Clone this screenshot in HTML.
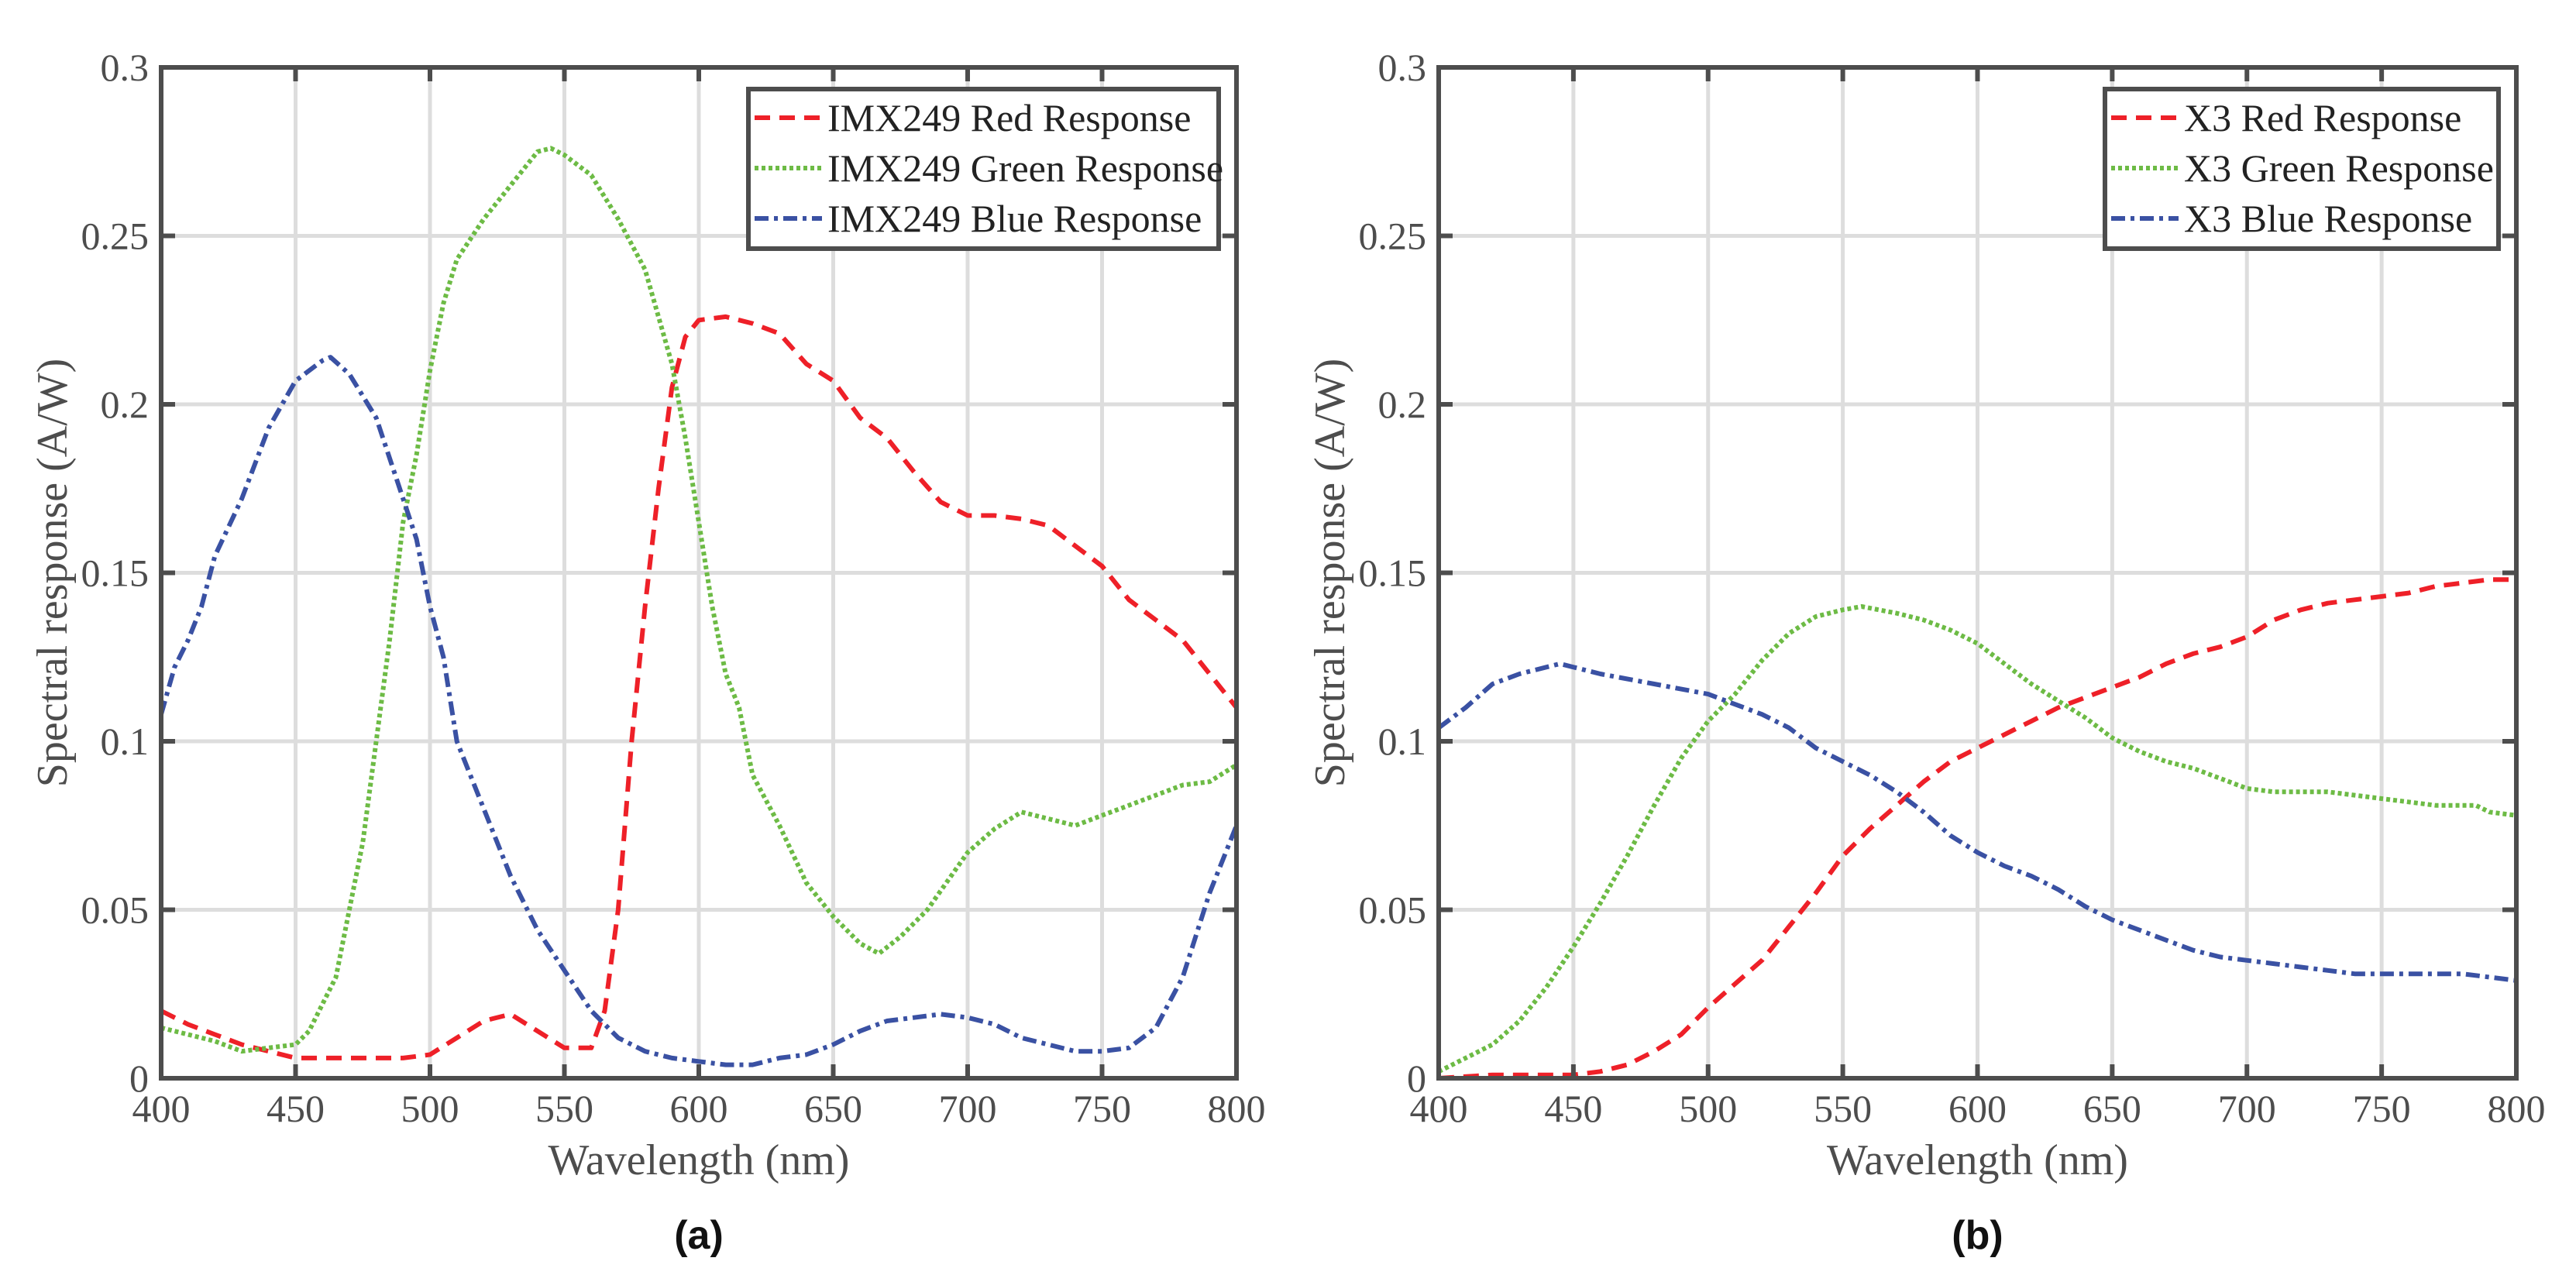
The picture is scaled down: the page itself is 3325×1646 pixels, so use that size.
<!DOCTYPE html>
<html><head><meta charset="utf-8"><style>
html,body{margin:0;padding:0;background:#fff;}
svg{display:block;}
text{font-family:"Liberation Serif",serif;}
</style></head><body>
<svg id="fig" width="3325" height="1646" viewBox="0 0 3325 1646" xmlns="http://www.w3.org/2000/svg"></svg>
<script>
const xTicks=[400,450,500,550,600,650,700,750,800];
const yTicks=[0,0.05,0.1,0.15,0.2,0.25,0.3];
const yTickLabels=["0","0.05","0.1","0.15","0.2","0.25","0.3"];
const aRedX=[400,410,420,430,440,450,460,470,480,490,500,510,520,530,540,550,560,565,570,575,580,585,590,595,600,610,620,630,640,650,660,670,680,690,700,710,720,730,740,750,760,770,780,790,800];
const aRedY=[0.020,0.016,0.013,0.010,0.008,0.006,0.006,0.006,0.006,0.006,0.007,0.012,0.017,0.019,0.014,0.009,0.009,0.02,0.05,0.10,0.14,0.175,0.205,0.22,0.225,0.226,0.224,0.221,0.212,0.207,0.196,0.190,0.180,0.171,0.167,0.167,0.166,0.164,0.158,0.152,0.142,0.136,0.130,0.120,0.110];
const aGreenX=[400,410,420,430,440,450,455,460,465,470,475,480,485,490,495,500,505,510,520,530,540,545,550,560,570,580,590,595,600,605,610,615,620,630,640,650,660,667,675,685,700,710,720,730,740,750,760,770,780,790,800];
const aGreenY=[0.015,0.013,0.011,0.008,0.009,0.010,0.014,0.022,0.030,0.050,0.070,0.100,0.130,0.165,0.185,0.210,0.230,0.243,0.255,0.265,0.275,0.276,0.274,0.268,0.255,0.240,0.212,0.190,0.165,0.140,0.120,0.110,0.090,0.075,0.058,0.048,0.040,0.037,0.042,0.050,0.067,0.074,0.079,0.077,0.075,0.078,0.081,0.084,0.087,0.088,0.093];
const aBlueX=[400,405,410,415,420,430,440,450,460,463,470,480,490,495,500,505,510,515,520,530,540,550,560,570,580,590,600,610,620,630,640,650,660,670,680,690,700,710,720,730,740,750,760,770,780,790,800];
const aBlueY=[0.108,0.122,0.130,0.140,0.155,0.172,0.193,0.207,0.213,0.214,0.209,0.196,0.172,0.160,0.140,0.125,0.100,0.090,0.080,0.060,0.044,0.032,0.020,0.012,0.008,0.006,0.005,0.004,0.004,0.006,0.007,0.010,0.014,0.017,0.018,0.019,0.018,0.016,0.012,0.010,0.008,0.008,0.009,0.015,0.030,0.055,0.075];
const bRedX=[400,420,440,450,460,470,480,490,500,510,520,530,540,550,560,570,580,590,600,610,620,630,640,650,660,670,680,690,700,710,720,730,740,750,760,770,780,790,800];
const bRedY=[0.000,0.001,0.001,0.001,0.002,0.004,0.008,0.013,0.021,0.028,0.035,0.045,0.055,0.066,0.074,0.081,0.088,0.094,0.098,0.102,0.106,0.110,0.113,0.116,0.119,0.123,0.126,0.128,0.131,0.136,0.139,0.141,0.142,0.143,0.144,0.146,0.147,0.148,0.148];
const bGreenX=[400,410,420,430,440,450,460,470,480,490,500,510,520,530,540,550,557,570,580,590,600,610,620,630,640,650,660,670,680,690,700,710,720,730,740,750,760,770,780,785,790,800];
const bGreenY=[0.002,0.006,0.010,0.017,0.027,0.039,0.052,0.066,0.081,0.095,0.106,0.114,0.124,0.132,0.137,0.139,0.140,0.138,0.136,0.133,0.129,0.123,0.117,0.112,0.107,0.101,0.097,0.094,0.092,0.089,0.086,0.085,0.085,0.085,0.084,0.083,0.082,0.081,0.081,0.081,0.079,0.078];
const bBlueX=[400,410,420,430,445,460,480,500,510,520,530,540,550,560,570,580,590,600,610,620,630,640,650,660,670,680,690,700,710,720,730,740,750,760,770,780,790,800];
const bBlueY=[0.104,0.110,0.117,0.120,0.123,0.120,0.117,0.114,0.111,0.108,0.104,0.098,0.094,0.090,0.085,0.079,0.072,0.067,0.063,0.060,0.056,0.051,0.047,0.044,0.041,0.038,0.036,0.035,0.034,0.033,0.032,0.031,0.031,0.031,0.031,0.031,0.030,0.029];

const NS="http://www.w3.org/2000/svg";
const svg=document.getElementById('fig');
function el(tag,attrs,parent){const e=document.createElementNS(NS,tag);for(const k in attrs)e.setAttribute(k,attrs[k]);(parent||svg).appendChild(e);return e;}
const AX='#4d4d4d', GRID='#dddddd';
const styles={
 red:{stroke:'#ee2028',dash:'20 12'},
 green:{stroke:'#6dbb45',dash:'5 4'},
 blue:{stroke:'#3a51a3',dash:'18 7 5 7'}
};
function panel(id,L,R,T,B,series,legendLeft,legendNames,caption){
  const g=el('g',{});
  
  
  const xs=v=>L+(v-400)/400*(R-L);
  const ys=v=>B-v/0.3*(B-T);
  // grid
  xTicks.forEach(t=>{const l=el('line',{x1:xs(t),x2:xs(t),y1:T,y2:B,stroke:GRID,'stroke-width':5},g);
    });
  yTicks.forEach(t=>{const l=el('line',{x1:L,x2:R,y1:ys(t),y2:ys(t),stroke:GRID,'stroke-width':5},g);
    });
  // series
  const cp=el('clipPath',{id:'clip'+id},g);el('rect',{x:L,y:T,width:R-L,height:B-T},cp);
  series.forEach(s=>{
    const d=s.x.map((v,i)=>(i?'L':'M')+xs(v).toFixed(1)+' '+ys(s.y[i]).toFixed(1)).join(' ');
    const p=el('path',{d:d,fill:'none',stroke:styles[s.c].stroke,'stroke-width':6,'stroke-dasharray':styles[s.c].dash,'clip-path':'url(#clip'+id+')','stroke-linejoin':'round'},g);
    
    
  });
  // ticks
  xTicks.forEach(t=>{el('line',{x1:xs(t),x2:xs(t),y1:B,y2:B-18,stroke:AX,'stroke-width':6},g);el('line',{x1:xs(t),x2:xs(t),y1:T,y2:T+18,stroke:AX,'stroke-width':6},g);
    const tx=el('text',{x:xs(t),y:B+56,'font-size':50,fill:AX,'text-anchor':'middle'},g);tx.textContent=t;
    });
  yTicks.forEach((t,i)=>{el('line',{x1:L,x2:L+18,y1:ys(t),y2:ys(t),stroke:AX,'stroke-width':6},g);el('line',{x1:R,x2:R-18,y1:ys(t),y2:ys(t),stroke:AX,'stroke-width':6},g);
    const tx=el('text',{x:L-16,y:ys(t)+17,'font-size':50,fill:AX,'text-anchor':'end'},g);tx.textContent=yTickLabels[i];
    });
  const fr=el('rect',{x:L,y:T,width:R-L,height:B-T,fill:'none',stroke:AX,'stroke-width':6},g);
  
  const xl=el('text',{x:(L+R)/2,y:B+124,'font-size':56,fill:AX,'text-anchor':'middle'},g);xl.textContent='Wavelength (nm)';
  
  const yl=el('text',{x:0,y:0,'font-size':56,fill:AX,'text-anchor':'middle',transform:`translate(${L-122},${(T+B)/2}) rotate(-90)`},g);yl.textContent='Spectral response (A/W)';
  
  // legend
  const lg=el('g',{},g);
  
  el('rect',{x:legendLeft,y:115,width:R-23-legendLeft,height:206,fill:'#fff',stroke:AX,'stroke-width':6},lg);
  ['red','green','blue'].forEach((c,i)=>{
    const y=152+i*65;
    const ln=el('line',{x1:legendLeft+8,x2:legendLeft+95,y1:y,y2:y,stroke:styles[c].stroke,'stroke-width':6,'stroke-dasharray':styles[c].dash},lg);
    
    const t=el('text',{x:legendLeft+102,y:y+17,'font-size':50,fill:'#222'},lg);t.textContent=legendNames[i];
    
  });
  const cap=el('text',{x:(L+R)/2,y:1612,'font-size':52,'font-weight':'bold',fill:'#111','text-anchor':'middle',style:'font-family:"Liberation Sans",sans-serif'},g);cap.textContent=caption;
  
}
panel('a',208,1596,87,1392,[{c:'red',x:aRedX,y:aRedY},{c:'green',x:aGreenX,y:aGreenY},{c:'blue',x:aBlueX,y:aBlueY}],966,['IMX249 Red Response','IMX249 Green Response','IMX249 Blue Response'],'(a)');
panel('b',1857,3248,87,1392,[{c:'red',x:bRedX,y:bRedY},{c:'green',x:bGreenX,y:bGreenY},{c:'blue',x:bBlueX,y:bBlueY}],2717,['X3 Red Response','X3 Green Response','X3 Blue Response'],'(b)');
</script>
</body></html>
